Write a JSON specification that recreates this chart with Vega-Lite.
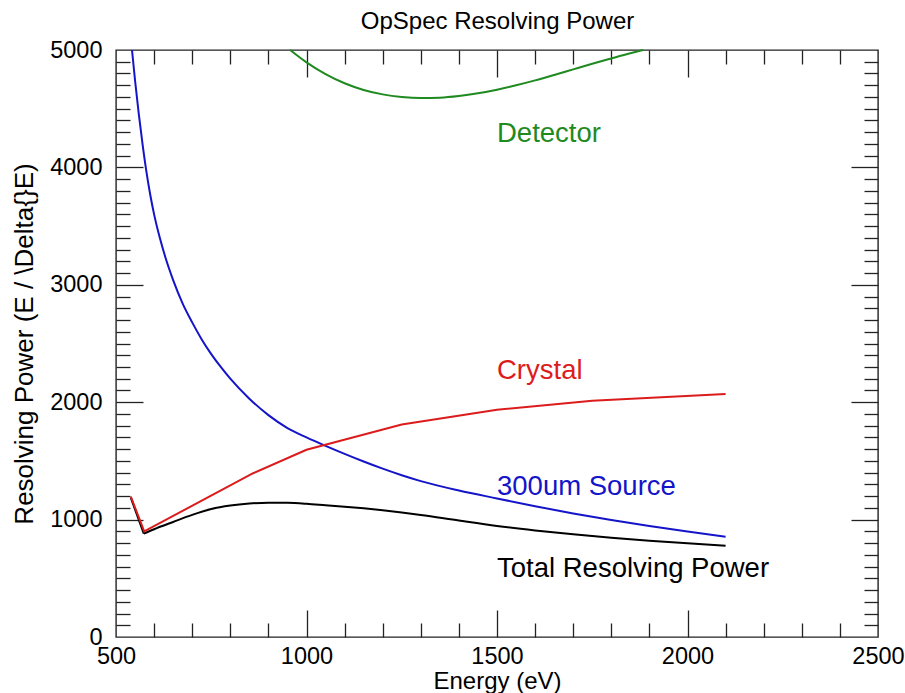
{
  "$schema": "https://vega.github.io/schema/vega-lite/v6.json",
  "width": 762,
  "height": 587,
  "autosize": {"type": "none"},
  "padding": {"left": 116, "top": 50, "right": 27, "bottom": 56},
  "background": "white",
  "config": {
    "view": {"stroke": "#222222", "strokeWidth": 1.4},
    "font": "Liberation Sans",
    "axis": {"grid": false, "domain": false, "tickColor": "#222222", "tickWidth": 1.3, "labelFont": "Liberation Sans", "labelColor": "#000000", "titleFont": "Liberation Sans", "titleColor": "#000000", "titleFontWeight": "normal"}
  },
  "datasets": {
    "curves": [
      {"series": "Total Resolving Power", "E": 539, "R": 1185},
      {"series": "Total Resolving Power", "E": 573, "R": 880},
      {"series": "Crystal", "E": 539, "R": 1195},
      {"series": "Crystal", "E": 574, "R": 900},
      {"series": "Crystal", "E": 860, "R": 1395},
      {"series": "Crystal", "E": 1000, "R": 1595},
      {"series": "Crystal", "E": 1250, "R": 1810},
      {"series": "Crystal", "E": 1500, "R": 1935},
      {"series": "Crystal", "E": 1750, "R": 2012},
      {"series": "Crystal", "E": 2100, "R": 2070}
    ],
    "smooth": [
      {"series": "Total Resolving Power", "E": 573, "R": 880},
      {"series": "Total Resolving Power", "E": 600, "R": 918},
      {"series": "Total Resolving Power", "E": 650, "R": 980},
      {"series": "Total Resolving Power", "E": 700, "R": 1040},
      {"series": "Total Resolving Power", "E": 750, "R": 1090},
      {"series": "Total Resolving Power", "E": 800, "R": 1120},
      {"series": "Total Resolving Power", "E": 850, "R": 1137},
      {"series": "Total Resolving Power", "E": 900, "R": 1144},
      {"series": "Total Resolving Power", "E": 950, "R": 1143},
      {"series": "Total Resolving Power", "E": 1000, "R": 1135},
      {"series": "Total Resolving Power", "E": 1050, "R": 1122},
      {"series": "Total Resolving Power", "E": 1100, "R": 1109},
      {"series": "Total Resolving Power", "E": 1150, "R": 1096},
      {"series": "Total Resolving Power", "E": 1200, "R": 1080},
      {"series": "Total Resolving Power", "E": 1250, "R": 1061},
      {"series": "Total Resolving Power", "E": 1300, "R": 1040},
      {"series": "Total Resolving Power", "E": 1400, "R": 992},
      {"series": "Total Resolving Power", "E": 1500, "R": 946},
      {"series": "Total Resolving Power", "E": 1600, "R": 908},
      {"series": "Total Resolving Power", "E": 1700, "R": 875},
      {"series": "Total Resolving Power", "E": 1800, "R": 846},
      {"series": "Total Resolving Power", "E": 1900, "R": 820},
      {"series": "Total Resolving Power", "E": 2000, "R": 798},
      {"series": "Total Resolving Power", "E": 2100, "R": 778},
      {"series": "300um Source", "E": 542, "R": 5000},
      {"series": "300um Source", "E": 550, "R": 4740},
      {"series": "300um Source", "E": 560, "R": 4450},
      {"series": "300um Source", "E": 570, "R": 4190},
      {"series": "300um Source", "E": 580, "R": 3960},
      {"series": "300um Source", "E": 590, "R": 3765},
      {"series": "300um Source", "E": 600, "R": 3600},
      {"series": "300um Source", "E": 615, "R": 3400},
      {"series": "300um Source", "E": 630, "R": 3230},
      {"series": "300um Source", "E": 650, "R": 3040},
      {"series": "300um Source", "E": 675, "R": 2840},
      {"series": "300um Source", "E": 700, "R": 2680},
      {"series": "300um Source", "E": 725, "R": 2535},
      {"series": "300um Source", "E": 750, "R": 2410},
      {"series": "300um Source", "E": 775, "R": 2300},
      {"series": "300um Source", "E": 800, "R": 2200},
      {"series": "300um Source", "E": 850, "R": 2030},
      {"series": "300um Source", "E": 900, "R": 1890},
      {"series": "300um Source", "E": 950, "R": 1780},
      {"series": "300um Source", "E": 1000, "R": 1700},
      {"series": "300um Source", "E": 1050, "R": 1628},
      {"series": "300um Source", "E": 1100, "R": 1560},
      {"series": "300um Source", "E": 1150, "R": 1495},
      {"series": "300um Source", "E": 1200, "R": 1434},
      {"series": "300um Source", "E": 1250, "R": 1378},
      {"series": "300um Source", "E": 1300, "R": 1328},
      {"series": "300um Source", "E": 1400, "R": 1248},
      {"series": "300um Source", "E": 1500, "R": 1180},
      {"series": "300um Source", "E": 1600, "R": 1114},
      {"series": "300um Source", "E": 1700, "R": 1052},
      {"series": "300um Source", "E": 1800, "R": 996},
      {"series": "300um Source", "E": 1900, "R": 945},
      {"series": "300um Source", "E": 2000, "R": 898},
      {"series": "300um Source", "E": 2100, "R": 854},
      {"series": "Detector", "E": 957, "R": 5000},
      {"series": "Detector", "E": 1000, "R": 4895},
      {"series": "Detector", "E": 1050, "R": 4795},
      {"series": "Detector", "E": 1100, "R": 4717},
      {"series": "Detector", "E": 1150, "R": 4660},
      {"series": "Detector", "E": 1200, "R": 4622},
      {"series": "Detector", "E": 1250, "R": 4600},
      {"series": "Detector", "E": 1300, "R": 4591},
      {"series": "Detector", "E": 1350, "R": 4594},
      {"series": "Detector", "E": 1400, "R": 4608},
      {"series": "Detector", "E": 1450, "R": 4631},
      {"series": "Detector", "E": 1500, "R": 4662},
      {"series": "Detector", "E": 1550, "R": 4699},
      {"series": "Detector", "E": 1600, "R": 4741},
      {"series": "Detector", "E": 1650, "R": 4787},
      {"series": "Detector", "E": 1700, "R": 4835},
      {"series": "Detector", "E": 1750, "R": 4883},
      {"series": "Detector", "E": 1800, "R": 4928},
      {"series": "Detector", "E": 1850, "R": 4972},
      {"series": "Detector", "E": 1884, "R": 5000}
    ],
    "labels": [
      {"series": "Detector", "E": 1500, "R": 4219},
      {"series": "Crystal", "E": 1500, "R": 2195},
      {"series": "300um Source", "E": 1500, "R": 1210},
      {"series": "Total Resolving Power", "E": 1500, "R": 508}
    ]
  },
  "layer": [
    {
      "data": {"name": "smooth"},
      "mark": {"type": "line", "strokeWidth": 2, "interpolate": "monotone"},
      "encoding": {
        "x": {"field": "E", "type": "quantitative", "scale": {"domain": [500, 2500], "nice": false, "zero": false},
          "axis": {"orient": "bottom", "values": [500, 1000, 1500, 2000, 2500], "format": "d", "ticks": false, "tickSize": 0, "labelPadding": 7, "labelFontSize": 23.5, "labelFlush": false, "labelOverlap": false, "title": "Energy (eV)", "titleFontSize": 24, "titleBaseline": "alphabetic", "titleY": 51}},
        "y": {"field": "R", "type": "quantitative", "scale": {"domain": [0, 5000], "nice": false},
          "axis": {"orient": "left", "values": [0, 1000, 2000, 3000, 4000, 5000], "format": "d", "ticks": false, "tickSize": 0, "labelPadding": 14, "labelFontSize": 23.5, "labelOverlap": false, "title": "Resolving Power (E / \\Delta{}E)", "titleFontSize": 26, "titleBaseline": "alphabetic", "titleAngle": -90, "titleX": -84, "titleY": 293.5, "titleAlign": "center"}},
        "color": {"field": "series", "type": "nominal", "scale": {"domain": ["Total Resolving Power", "300um Source", "Crystal", "Detector"], "range": ["#000000", "#1414c8", "#dc1c1c", "#1f8a1f"]}, "legend": null},
        "order": {"field": "E", "type": "quantitative"}
      }
    },
    {
      "data": {"name": "curves"},
      "mark": {"type": "line", "strokeWidth": 2},
      "encoding": {
        "x": {"field": "E", "type": "quantitative", "axis": null},
        "y": {"field": "R", "type": "quantitative", "axis": null},
        "color": {"field": "series", "type": "nominal", "legend": null},
        "order": {"field": "E", "type": "quantitative"}
      }
    },
    {
      "data": {"name": "labels"},
      "mark": {"type": "text", "align": "left", "baseline": "alphabetic", "fontSize": 27.5, "font": "Liberation Sans"},
      "encoding": {
        "x": {"field": "E", "type": "quantitative", "axis": null},
        "y": {"field": "R", "type": "quantitative", "axis": null},
        "text": {"field": "series"},
        "color": {"field": "series", "type": "nominal", "legend": null}
      }
    },
    {
      "data": {"name": "labels"},
      "mark": {"type": "point", "opacity": 0},
      "encoding": {
        "x": {"field": "E", "type": "quantitative", "axis": {"orient": "bottom", "values": [1000, 1500, 2000], "offset": -27, "tickSize": 27, "labels": false, "title": null}},
        "y": {"field": "R", "type": "quantitative", "axis": {"orient": "left", "values": [1000, 2000, 3000, 4000], "offset": -27, "tickSize": 27, "labels": false, "title": null}}
      }
    },
    {
      "data": {"name": "labels"},
      "mark": {"type": "point", "opacity": 0},
      "encoding": {
        "x": {"field": "E", "type": "quantitative", "axis": {"orient": "bottom", "values": [600, 700, 800, 900, 1100, 1200, 1300, 1400, 1600, 1700, 1800, 1900, 2100, 2200, 2300, 2400], "offset": -14, "tickSize": 14, "labels": false, "title": null}},
        "y": {"field": "R", "type": "quantitative", "axis": {"orient": "left", "values": [100, 200, 300, 400, 500, 600, 700, 800, 900, 1100, 1200, 1300, 1400, 1500, 1600, 1700, 1800, 1900, 2100, 2200, 2300, 2400, 2500, 2600, 2700, 2800, 2900, 3100, 3200, 3300, 3400, 3500, 3600, 3700, 3800, 3900, 4100, 4200, 4300, 4400, 4500, 4600, 4700, 4800, 4900], "offset": -14, "tickSize": 14, "labels": false, "title": null}}
      }
    },
    {
      "data": {"name": "labels"},
      "mark": {"type": "point", "opacity": 0},
      "encoding": {
        "x": {"field": "E", "type": "quantitative", "axis": {"orient": "top", "values": [1000, 1500, 2000], "offset": -27, "tickSize": 27, "labels": false, "title": "OpSpec Resolving Power", "titleFontSize": 24, "titleBaseline": "alphabetic", "titleX": 381, "titleY": -49, "titleAlign": "center"}},
        "y": {"field": "R", "type": "quantitative", "axis": {"orient": "right", "values": [1000, 2000, 3000, 4000], "offset": -27, "tickSize": 27, "labels": false, "title": null}}
      }
    },
    {
      "data": {"name": "labels"},
      "mark": {"type": "point", "opacity": 0},
      "encoding": {
        "x": {"field": "E", "type": "quantitative", "axis": {"orient": "top", "values": [600, 700, 800, 900, 1100, 1200, 1300, 1400, 1600, 1700, 1800, 1900, 2100, 2200, 2300, 2400], "offset": -14, "tickSize": 14, "labels": false, "title": null}},
        "y": {"field": "R", "type": "quantitative", "axis": {"orient": "right", "values": [100, 200, 300, 400, 500, 600, 700, 800, 900, 1100, 1200, 1300, 1400, 1500, 1600, 1700, 1800, 1900, 2100, 2200, 2300, 2400, 2500, 2600, 2700, 2800, 2900, 3100, 3200, 3300, 3400, 3500, 3600, 3700, 3800, 3900, 4100, 4200, 4300, 4400, 4500, 4600, 4700, 4800, 4900], "offset": -14, "tickSize": 14, "labels": false, "title": null}}
      }
    }
  ],
  "resolve": {"axis": {"x": "independent", "y": "independent"}}
}
